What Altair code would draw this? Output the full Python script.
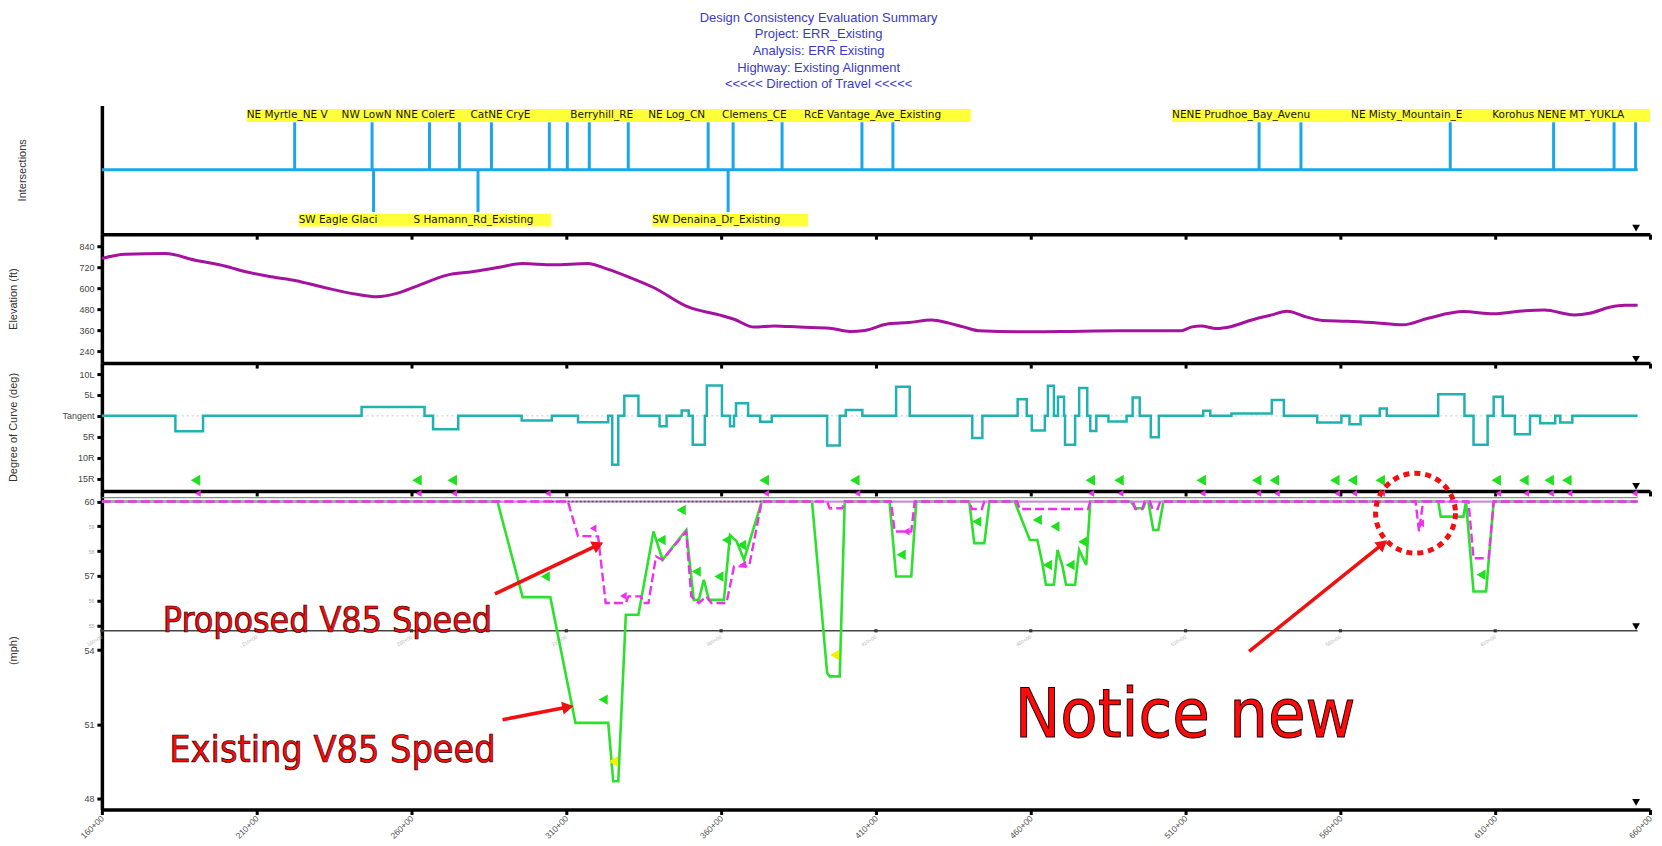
import altair as alt
import pandas as pd

FONT = "Liberation Sans"
NARROW = "Liberation Sans Narrow, Arial Narrow, DejaVu Sans Condensed, sans-serif"

# ---------------- data ----------------
TITLE_LINES = [
    "Design Consistency Evaluation Summary",
    "Project: ERR_Existing",
    "Analysis: ERR Existing",
    "Highway: Existing Alignment",
    "<<<<< Direction of Travel <<<<<",
]

STATION_TICKS = [16000, 21000, 26000, 31000, 36000, 41000, 46000, 51000, 56000, 61000, 66000]
ROAD_START, ROAD_END = 16000, 65600

# intersections (stations in ft)
INT_UP_STA = [22226, 24726, 26581, 27548, 28581, 30452, 31032, 31742, 33000, 35581,
              36387, 37968, 40548, 41548, 53374, 54726, 59548, 62887, 64839, 65535]
INT_DOWN_STA = [24774, 28148, 36226]

TOP_LABEL_STA = [20677, 23742, 25484, 27903, 31129, 33645, 36032, 38677,
                 50565, 56345, 60903, 62355]
TOP_LABEL_TXT = ["NE Myrtle_NE V", "NW LowN", "NNE ColerE", "CatNE CryE", "Berryhill_RE",
                 "NE Log_CN", "Clemens_CE", "RcE Vantage_Ave_Existing",
                 "NENE Prudhoe_Bay_Avenu", "NE Misty_Mountain_E", "Korohus", "NENE MT_YUKLA"]
TOP_RUN_START = [20677, 50565]
TOP_RUN_END = [44065, 66000]
BOT_LABEL_STA = [22355, 26065, 33774]
BOT_LABEL_TXT = ["SW Eagle Glaci", "S Hamann_Rd_Existing", "SW Denaina_Dr_Existing"]
BOT_RUN_START = [22355, 33774]
BOT_RUN_END = [30516, 38806]

# elevation profile (ft)
ELEV_STA = [16000, 16748, 18048, 19023, 19999, 20649, 21462, 22274, 23087, 24225,
            24875, 25525, 26176, 27151, 27964, 28776, 29589, 30565, 31702, 32190,
            33003, 33816, 34953, 35929, 36416, 37066, 37716, 38529, 39504, 40155,
            40642, 41407, 42059, 42792, 43362, 43850, 44339, 45642, 46945, 48899,
            50854, 51179, 51505, 51994, 52482, 53134, 53785, 54274, 54925, 55414,
            56229, 57043, 58020, 58834, 59974, 60951, 61765, 62580, 63557, 64045,
            64697, 65186, 65600]
ELEV_FT = [770, 795, 798, 760, 726, 694, 665, 643, 608, 565,
           551, 570, 612, 675, 694, 718, 741, 734, 741, 718,
           665, 604, 491, 447, 422, 377, 384, 377, 371, 352,
           358, 396, 403, 418, 400, 377, 356, 350, 352, 356,
           356, 377, 384, 369, 381, 418, 447, 468, 434, 415,
           411, 403, 390, 428, 466, 453, 468, 475, 447, 456,
           491, 502, 502]

# degree of curve (positive = Left, negative = Right), step function
CURVE_STA = [16000, 18373, 19267, 24388, 26420, 26696, 27509, 29557, 30532, 31377,
             32353, 32483, 32678, 32873, 33328, 34011, 34238, 34726, 34953, 35083,
             35473, 35538, 36026, 36286, 36416, 36481, 36871, 37261, 37635, 39423,
             39830, 40025, 40561, 41651, 42091, 44111, 44437, 45577, 45870, 46033,
             46456, 46554, 46749, 46880, 47075, 47107, 47433, 47563, 47824, 47922,
             48117, 48508, 49095, 49290, 49518, 49877, 50137, 51570, 51798, 52482,
             53785, 54176, 55251, 56033, 56294, 56652, 57271, 57499, 59160, 60007,
             60300, 60756, 60951, 61244, 61635, 62124, 62450, 62939, 63101, 63492,
             65600]
CURVE_DEG = [0, -3.7, 0, 2.1, 0, -3.2, 0, -1.1, 0, -1.5,
             0, -11.7, 0, 4.8, 0, -2.5, 0, 1.3, 0, -6.9,
             0, 7.3, 0, -2.5, 0, 3.0, 0, -1.4, 0, -7.1,
             0, 1.4, 0, 7.0, 0, -5.3, 0, 4.0, 0, -3.5,
             0, 7.2, 0, 4.6, 0, -6.9, 0, 6.7, 0, -3.6,
             0, -1.35, 0, 4.4, 0, -5.1, 0, 1.2, 0, 0.55,
             3.8, 0, -1.6, 0, -2.0, 0, 1.75, 0, 5.2, 0,
             -6.9, 0, 4.6, 0, -4.4, 0, -1.75, 0, -1.6, 0,
             0]

# existing V85 speed (mph)
EX_STA = [16000, 28776, 29589, 30483, 31296, 32353, 32515, 32678, 32922, 33328, 33816,
          34108, 34872, 35116, 35279, 35441, 35604, 36091, 36286, 36497, 36741, 37310,
          38936, 39423, 39504, 39830, 39992,
          41440, 41651, 42140, 42303,
          44013, 44176, 44502, 44665,
          45479, 45968, 46212, 46375, 46489, 46749, 46863, 47026, 47140, 47433, 47563, 47792, 47922,
          49225, 49388, 49632, 49713, 49795, 49958, 50121, 50284,
          59160, 59242, 59974, 60056, 60300, 60707, 60951, 65600]
EX_MPH = [60, 60, 56.14, 56.14, 51.06, 51.06, 48.7, 48.7, 55.43, 55.43, 58.79,
          57.65, 58.85, 56.03, 56.03, 56.84, 56.03, 56.03, 58.65, 58.4, 57.65, 60,
          60, 53.08, 52.94, 52.94, 60,
          60, 56.97, 56.97, 60,
          60, 58.32, 58.32, 60,
          60, 58.45, 58.45, 57.51, 56.64, 56.64, 58.05, 57.38, 56.64, 56.64, 58.05, 57.44, 60,
          60, 59.73, 59.73, 60, 60, 58.85, 58.85, 60,
          60, 59.39, 59.39, 60, 56.37, 56.37, 60, 60]

# proposed V85 speed (mph)
PR_STA = [16000, 31052, 31377, 32027, 32271, 32922, 33003, 33409, 33491, 33653, 33897,
          34108, 34872, 35035, 35279, 35523, 35685, 36172, 36416, 36904, 37310,
          39423, 39504, 39911, 39992,
          41489, 41603, 42140, 42254,
          44013, 44100, 44420, 44502,
          45560, 45640, 47850, 47922,
          49300, 49380, 49600, 49680, 49850, 49930, 50100, 50180,
          58427, 58541, 58671,
          60137, 60300, 60788, 60951, 65600]
PR_MPH = [60, 60, 58.61, 58.59, 55.9, 55.9, 56.17, 56.17, 55.9, 55.9, 57.78,
          57.65, 58.79, 56.17, 55.9, 56.17, 55.9, 55.9, 57.38, 57.38, 60,
          60, 59.73, 59.73, 60,
          60, 58.79, 58.79, 60,
          60, 59.7, 59.7, 60,
          60, 59.7, 59.7, 60,
          60, 59.7, 59.7, 60, 60, 59.7, 59.7, 60,
          60, 58.79, 60,
          60, 57.71, 57.71, 60, 60]

GREEN_FLAG_STA = [19023, 26176, 27314, 37391, 40318, 47922, 48850, 51505, 53297,
                  53867, 55821, 56392, 57287, 61033, 61928, 62743, 63313]
PINK_FLAG_STA = [19100, 26230, 27380, 30402, 37450, 40400, 47950, 48900, 51550, 53350,
                 53950, 55900, 56450, 57350, 61100, 62000, 62800, 63400, 65500]

GREEN_MARK_STA = [30321, 32190, 34060, 34710, 35198, 35929, 36172, 36660, 41814,
                  44257, 46212, 46782, 46538, 47270, 47677, 60544]
GREEN_MARK_MPH = [56.97, 52.0, 58.45, 59.66, 57.17, 56.97, 58.45, 58.25, 57.85,
                  59.19, 59.26, 58.99, 57.44, 57.44, 58.38, 57.04]
YELLOW_MARK_STA = [32515, 39667]
YELLOW_MARK_MPH = [49.5, 53.8]
PINK_MARK_STA = [31865, 32840, 36700, 41977, 58590]
PINK_MARK_MPH = [58.92, 56.19, 57.45, 58.79, 59.12]

# annotations
NOTE1_TXT, NOTE1_STA, NOTE1_MPH = ["Proposed V85 Speed"], [17967], [54.72]
NOTE2_TXT, NOTE2_STA, NOTE2_MPH = ["Existing V85 Speed"], [18178], [49.5]
BIG_TXT, BIG_STA, BIG_MPH = ["Notice new"], [45479], [50.5]
ARROW_STA0 = [28695, 28939, 53052]
ARROW_MPH0 = [56.27, 51.19, 53.95]
ARROW_STA1 = [32027, 31052, 57369]
ARROW_MPH1 = [58.25, 51.7, 58.29]
ARROW_ANGLE = [64, 79, 51]
CIRCLE_STA = [58427]
CIRCLE_MPH = [59.53]

# ---------------- layout ----------------
W = 1550
H1, H2, H3, H4 = 129, 129, 128, 319
XS = alt.Scale(domain=[16000, 66000], nice=False, zero=False)
BLUE = "#1aa6e8"


def X(show_labels=False):
    return alt.X(
        "sta:Q", scale=XS,
        axis=alt.Axis(values=STATION_TICKS, labels=show_labels,
                      labelExpr="floor(datum.value / 100) + '+00'",
                      labelAngle=315, labelAlign="right", labelBaseline="middle",
                      labelFontSize=8.5, labelFont=FONT, labelColor="#555", labelPadding=2,
                      labelOverlap=False, labelBound=False, labelFlush=False,
                      domainColor="#000", domainWidth=3.5, tickColor="#000",
                      tickWidth=3, tickSize=5, grid=False, title=None))


def yaxis(title, h, tx, **kw):
    base = dict(title=title, titleX=tx, titleY=h / 2, titleAngle=270, titleAlign="center",
                titleBaseline="middle", titleFont=FONT, titleFontSize=11,
                titleFontWeight="normal", titleColor="#333", domainColor="#000",
                domainWidth=3.5, grid=False, tickColor="#000", tickWidth=3, tickSize=5,
                labelFont=FONT, labelFontSize=9, labelColor="#444", labelPadding=3)
    base.update(kw)
    return alt.Axis(**base)


def df(**cols):
    return pd.DataFrame(cols)


# ---- intersections panel ----
yI_scale = alt.Scale(domain=[-1.6, 1.6], nice=False, zero=False)
yI = alt.Y("v:Q", scale=yI_scale, axis=yaxis("Intersections", H1, -79, labels=False, ticks=False))

int_layers = [
    alt.Chart(df(sta=[ROAD_START], sta2=[ROAD_END], v=[0.0])).mark_rule(color=BLUE, strokeWidth=3)
    .encode(x=X(), x2="sta2:Q", y=yI),
    alt.Chart(df(sta=INT_UP_STA, v=[0.0] * len(INT_UP_STA), v2=[1.18] * len(INT_UP_STA)))
    .mark_rule(color=BLUE, strokeWidth=3).encode(x=X(), y=yI, y2="v2:Q"),
    alt.Chart(df(sta=INT_DOWN_STA, v=[0.0] * len(INT_DOWN_STA), v2=[-1.05] * len(INT_DOWN_STA)))
    .mark_rule(color=BLUE, strokeWidth=3).encode(x=X(), y=yI, y2="v2:Q"),
    alt.Chart(df(sta=TOP_RUN_START, sta2=TOP_RUN_END, v=[1.19] * 2, v2=[1.51] * 2))
    .mark_rect(color="#ffff3a").encode(x=X(), x2="sta2:Q", y=yI, y2="v2:Q"),
    alt.Chart(df(sta=BOT_RUN_START, sta2=BOT_RUN_END, v=[-1.09] * 2, v2=[-1.41] * 2))
    .mark_rect(color="#ffff3a").encode(x=X(), x2="sta2:Q", y=yI, y2="v2:Q"),
    alt.Chart(df(sta=TOP_LABEL_STA, v=[1.35] * len(TOP_LABEL_STA), t=TOP_LABEL_TXT))
    .mark_text(align="left", baseline="middle", font="DejaVu Sans", fontSize=10.5, color="#151515")
    .encode(x=X(), y=yI, text="t:N"),
    alt.Chart(df(sta=BOT_LABEL_STA, v=[-1.25] * len(BOT_LABEL_STA), t=BOT_LABEL_TXT))
    .mark_text(align="left", baseline="middle", font="DejaVu Sans", fontSize=10.5, color="#151515")
    .encode(x=X(), y=yI, text="t:N"),
    alt.Chart(df(sta=[65550], v=[-1.45])).mark_point(shape="triangle-down", filled=True,
                                                     color="#000", size=60, opacity=1)
    .encode(x=X(), y=yI),
]
p_int = alt.layer(*int_layers).properties(width=W, height=H1)

# ---- elevation panel ----
yE = alt.Y("v:Q", scale=alt.Scale(domain=[171, 909], nice=False, zero=False),
           axis=yaxis("Elevation (ft)", H2, -88, values=[240, 360, 480, 600, 720, 840]))
p_elev = alt.layer(
    alt.Chart(df(sta=ELEV_STA, v=ELEV_FT)).mark_line(color="#a5129f", strokeWidth=3,
                                                     interpolate="monotone")
    .encode(x=X(), y=yE),
    alt.Chart(df(sta=[65550], v=[193])).mark_point(shape="triangle-down", filled=True,
                                                   color="#000", size=60, opacity=1)
    .encode(x=X(), y=yE),
).properties(width=W, height=H2)

# ---- degree of curve panel ----
yC = alt.Y("v:Q", scale=alt.Scale(domain=[-17.97, 12.64], nice=False, zero=False),
           axis=yaxis("Degree of Curve (deg)", H3, -88, values=[-15, -10, -5, 0, 5, 10],
                      labelExpr="datum.value == 0 ? 'Tangent' : (datum.value > 0 ? datum.value + 'L' : (-datum.value) + 'R')"))
p_curve = alt.layer(
    alt.Chart(df(sta=[ROAD_START], sta2=[ROAD_END], v=[0.0])).mark_rule(
        color="#c8c8c8", strokeWidth=1, strokeDash=[2, 3]).encode(x=X(), x2="sta2:Q", y=yC),
    alt.Chart(df(sta=CURVE_STA, v=CURVE_DEG)).mark_line(color="#20b2b0", strokeWidth=2.5,
                                                        interpolate="step-after")
    .encode(x=X(), y=yC),
    alt.Chart(df(sta=GREEN_FLAG_STA, v=[-15.4] * len(GREEN_FLAG_STA))).mark_point(
        shape="triangle-left", filled=True, color="#1fe01f", size=120, opacity=1)
    .encode(x=X(), y=yC),
    alt.Chart(df(sta=[65550], v=[-16.9])).mark_point(shape="triangle-down", filled=True,
                                                     color="#000", size=60, opacity=1)
    .encode(x=X(), y=yC),
).properties(width=W, height=H3)

# ---- speed panel ----
yS = alt.Y("v:Q", scale=alt.Scale(domain=[47.56, 60.43], nice=False, zero=False),
           axis=yaxis("(mph)", H4, -88, values=[48, 51, 54, 55, 56, 57, 58, 59, 60],
                      labelFontSize={"condition": {"test": "datum.value % 3 == 0", "value": 9}, "value": 5},
                      labelColor={"condition": {"test": "datum.value % 3 == 0", "value": "#444"}, "value": "#aaa"}))

sub_ticks = [s for s in STATION_TICKS if s <= ROAD_END]
sub_lbl = [f"{s // 100}+00" for s in sub_ticks]


def big_text(txt, sta, mph, size, sw):
    return alt.Chart(df(sta=sta, v=mph, t=txt)).mark_text(
        align="left", baseline="alphabetic", font=NARROW, fontSize=size, color="#ff0a0a",
        stroke="#1a0000", strokeWidth=sw).encode(x=X(True), y=yS, text="t:N")


speed_layers = [
    alt.Chart(df(sta=[ROAD_START], sta2=[ROAD_END], v=[60.16])).mark_rule(
        color="#8a8a8a", strokeWidth=1.3).encode(x=X(True), x2="sta2:Q", y=yS),
    alt.Chart(df(sta=[ROAD_START], sta2=[ROAD_END], v=[54.78])).mark_rule(
        color="#444", strokeWidth=1.6).encode(x=X(True), x2="sta2:Q", y=yS),
    alt.Chart(df(sta=sub_ticks, v=[54.78] * len(sub_ticks))).mark_point(
        shape="square", filled=True, color="#333", size=10, opacity=1).encode(x=X(True), y=yS),
    alt.Chart(df(sta=sub_ticks, v=[54.55] * len(sub_ticks), t=sub_lbl)).mark_text(
        angle=330, align="right", baseline="middle", fontSize=5, font=FONT, color="#b5b5b5")
    .encode(x=X(True), y=yS, text="t:N"),
    alt.Chart(df(sta=EX_STA, v=EX_MPH)).mark_line(color="#2ee02e", strokeWidth=2.6)
    .encode(x=X(True), y=yS),
    alt.Chart(df(sta=[ROAD_START], sta2=[ROAD_END], v=[60.0])).mark_rule(
        color="#c68fd6", strokeWidth=2.2).encode(x=X(True), x2="sta2:Q", y=yS),
    alt.Chart(df(sta=[30400], sta2=[37400], v=[60.0])).mark_rule(
        color="#555", strokeWidth=1.6, strokeDash=[2, 2]).encode(x=X(True), x2="sta2:Q", y=yS),
    alt.Chart(df(sta=PR_STA, v=PR_MPH)).mark_line(color="#ee30ee", strokeWidth=2.4,
                                                  strokeDash=[9, 4])
    .encode(x=X(True), y=yS),
    alt.Chart(df(sta=PINK_FLAG_STA, v=[60.33] * len(PINK_FLAG_STA))).mark_point(
        shape="triangle-left", filled=True, color="#ee30ee", size=45, opacity=1)
    .encode(x=X(True), y=yS),
    alt.Chart(df(sta=GREEN_MARK_STA, v=GREEN_MARK_MPH)).mark_point(
        shape="triangle-left", filled=True, color="#1fe01f", size=110, opacity=1)
    .encode(x=X(True), y=yS),
    alt.Chart(df(sta=YELLOW_MARK_STA, v=YELLOW_MARK_MPH)).mark_point(
        shape="triangle-left", filled=True, color="#f4f000", size=110, opacity=1)
    .encode(x=X(True), y=yS),
    alt.Chart(df(sta=PINK_MARK_STA, v=PINK_MARK_MPH)).mark_point(
        shape="triangle-left", filled=True, color="#ee30ee", size=60, opacity=1)
    .encode(x=X(True), y=yS),
    alt.Chart(df(sta=[65550, 65550], v=[47.85, 54.95])).mark_point(
        shape="triangle-down", filled=True, color="#000", size=60, opacity=1)
    .encode(x=X(True), y=yS),
    # annotations
    alt.Chart(df(sta=ARROW_STA0, v=ARROW_MPH0, sta2=ARROW_STA1, v2=ARROW_MPH1)).mark_rule(
        color="#f01010", strokeWidth=3.5).encode(x=X(True), y=yS, x2="sta2:Q", y2="v2:Q"),
    alt.Chart(df(sta=ARROW_STA1, v=ARROW_MPH1, a=ARROW_ANGLE)).mark_point(
        shape="triangle-up", filled=True, color="#f01010", size=170, opacity=1)
    .encode(x=X(True), y=yS, angle=alt.Angle("a:Q", scale=None)),
    alt.Chart(df(sta=CIRCLE_STA, v=CIRCLE_MPH)).mark_point(
        shape="circle", filled=False, color="#f01010", size=6400, strokeWidth=5,
        strokeDash=[6, 5], opacity=1).encode(x=X(True), y=yS),
    big_text(NOTE1_TXT, NOTE1_STA, NOTE1_MPH, 35.5, 0.7),
    big_text(NOTE2_TXT, NOTE2_STA, NOTE2_MPH, 37.5, 0.7),
    big_text(BIG_TXT, BIG_STA, BIG_MPH, 68, 1.0),
]
p_speed = alt.layer(*speed_layers).properties(width=W, height=H4)

chart = alt.vconcat(p_int, p_elev, p_curve, p_speed, spacing=0, bounds="flush").properties(
    title=alt.TitleParams(text=TITLE_LINES, anchor="middle", dx=-12, offset=14, fontSize=13,
                          font=FONT, fontWeight="normal", color="#3a3ac8", lineHeight=16.7),
    padding={"left": 0, "top": 3, "right": 0, "bottom": 0},
    autosize=alt.AutoSizeParams(type="pad"),
).configure_view(stroke=None)

chart.save("out.html", embed_options={"renderer": "svg", "actions": False})
